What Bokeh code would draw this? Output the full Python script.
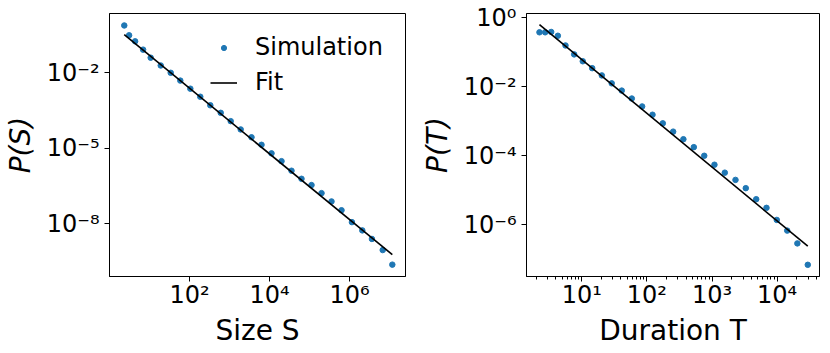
from bokeh.plotting import figure
from bokeh.layouts import row
from bokeh.models import FixedTicker, CustomJSTickFormatter, Legend, LegendItem, Range1d
from bokeh.embed import file_html
from bokeh.resources import INLINE

# ---- data: avalanche size distribution ----
size_S = [2.34, 3.09, 4.37, 6.92, 10.7, 19.1, 33.9, 58.9, 105, 186, 331, 603, 1072, 1905,
          3548, 6310, 11220, 19950, 35480, 63100, 112200, 199500, 354800, 631000,
          1148000, 2089000, 3631000, 6761000, 11750000]
prob_S = [0.759, 0.309, 0.178, 0.0832, 0.0398, 0.0195, 0.0100, 0.0049, 0.00234, 0.00112,
          5.13e-4, 2.57e-4, 1.20e-4, 5.62e-5, 2.75e-5, 1.38e-5, 6.31e-6, 3.09e-6, 1.29e-6,
          6.17e-7, 3.47e-7, 1.66e-7, 7.76e-8, 3.47e-8, 1.17e-8, 5.5e-9, 2.51e-9, 9.1e-10, 2.4e-10]
fit_S_amplitude = 1.0
fit_S_exponent = 1.305

# ---- data: avalanche duration distribution ----
dur_T = [2.24, 2.74, 3.39, 4.29, 5.62, 7.64, 10.35, 14.45, 20.3, 28.8, 41.1, 58.6, 84.5,
         121.9, 175.4, 252.9, 363, 525, 759, 1089, 1570, 2291, 3296, 4764, 6855, 9863,
         14260, 20420, 29510]
prob_T = [0.380, 0.380, 0.389, 0.302, 0.158, 0.0871, 0.0550, 0.0347, 0.0214, 0.0126,
          0.00776, 0.00457, 0.00269, 0.00155, 8.71e-4, 5.01e-4, 3.02e-4, 1.78e-4, 1.0e-4,
          5.5e-5, 3.24e-5, 2.0e-5, 1.15e-5, 5.5e-6, 3.09e-6, 1.38e-6, 6.76e-7, 2.88e-7, 6.9e-8]
fit_T_amplitude = 2.24
fit_T_exponent = 1.56

# ---- ticks ----
S_xticks = [1e2, 1e4, 1e6]
S_yticks = [1e-2, 1e-5, 1e-8]
T_xticks = [1e1, 1e2, 1e3, 1e4]
T_xminor = [m * 10 ** d for d in range(0, 5) for m in range(2, 10)]
T_yticks = [1e0, 1e-2, 1e-4, 1e-6]

BLUE = "#1f77b4"
FONT = "DejaVu Sans"

sup_fmt = CustomJSTickFormatter(code="""
const e = Math.round(Math.log10(tick));
const m = {"-":"\\u207b","0":"\\u2070","1":"\\u00b9","2":"\\u00b2","3":"\\u00b3","4":"\\u2074",
           "5":"\\u2075","6":"\\u2076","7":"\\u2077","8":"\\u2078","9":"\\u2079"};
return "10" + String(e).split("").map(c => m[c]).join("");
""")


def make_fig(x_range, y_range, border_left, border_right, frame_w):
    p = figure(x_axis_type="log", y_axis_type="log",
               x_range=Range1d(*x_range), y_range=Range1d(*y_range),
               frame_width=frame_w, frame_height=263,
               min_border_left=border_left, min_border_right=border_right,
               min_border_top=13, min_border_bottom=66,
               output_backend="svg", toolbar_location=None)
    p.grid.visible = False
    p.outline_line_color = "black"
    p.outline_line_width = 1
    p.background_fill_color = "white"
    for ax in (p.xaxis[0], p.yaxis[0]):
        ax.formatter = sup_fmt
        ax.axis_line_color = "black"
        ax.major_tick_line_color = "black"
        ax.minor_tick_line_color = "black"
        ax.major_tick_out = 5
        ax.major_tick_in = 0
        ax.minor_tick_out = 3
        ax.minor_tick_in = 0
        ax.major_label_text_font = FONT
        ax.major_label_text_font_size = "24px"
        ax.major_label_text_color = "black"
        ax.axis_label_text_font = FONT
        ax.axis_label_text_font_size = "28px"
        ax.axis_label_text_color = "black"
    p.xaxis.major_label_standoff = -1
    p.yaxis.major_label_standoff = 5
    p.xaxis.axis_label_standoff = 2
    p.yaxis.axis_label_standoff = 7
    p.yaxis.axis_label_text_font_style = "italic"
    p.xaxis.axis_label_text_font_style = "normal"
    return p


# ---- left panel ----
p1 = make_fig((1.0, 2.51e7), (8.1e-11, 2.27), 99, 12, 296)
p1.xaxis.ticker = FixedTicker(ticks=S_xticks, minor_ticks=[])
p1.yaxis.ticker = FixedTicker(ticks=S_yticks, minor_ticks=[])
p1.xaxis.axis_label = "Size S"
p1.yaxis.axis_label = "P(S)"
r_sim = p1.scatter(size_S, prob_S, size=5.5, color=BLUE, line_color=BLUE)
fit_S_x = [size_S[0], size_S[-1]]
fit_S_y = [fit_S_amplitude * x ** (-fit_S_exponent) for x in fit_S_x]
r_fit = p1.line(fit_S_x, fit_S_y, line_color="black", line_width=1.6)

legend = Legend(items=[LegendItem(label="Simulation", renderers=[r_sim]),
                       LegendItem(label="Fit", renderers=[r_fit])],
                location=(101, 180), padding=0, margin=0, spacing=7,
                glyph_width=27, glyph_height=13, label_height=28, label_standoff=18,
                label_text_font=FONT, label_text_font_size="24px",
                label_text_color="black", label_text_baseline="alphabetic",
                border_line_alpha=0, background_fill_alpha=0)
p1.add_layout(legend)

# ---- right panel ----
p2 = make_fig((1.416, 44670), (3.16e-8, 1.334), 107, 7, 293)
p2.xaxis.ticker = FixedTicker(ticks=T_xticks, minor_ticks=T_xminor)
p2.yaxis.ticker = FixedTicker(ticks=T_yticks, minor_ticks=[])
p2.xaxis.axis_label = "Duration T"
p2.yaxis.axis_label = "P(T)"
p2.scatter(dur_T, prob_T, size=5.5, color=BLUE, line_color=BLUE)
fit_T_x = [dur_T[0], dur_T[-1]]
fit_T_y = [fit_T_amplitude * x ** (-fit_T_exponent) for x in fit_T_x]
p2.line(fit_T_x, fit_T_y, line_color="black", line_width=1.6)

layout = row(p1, p2)
open("out.html", "w").write(file_html(layout, INLINE))
